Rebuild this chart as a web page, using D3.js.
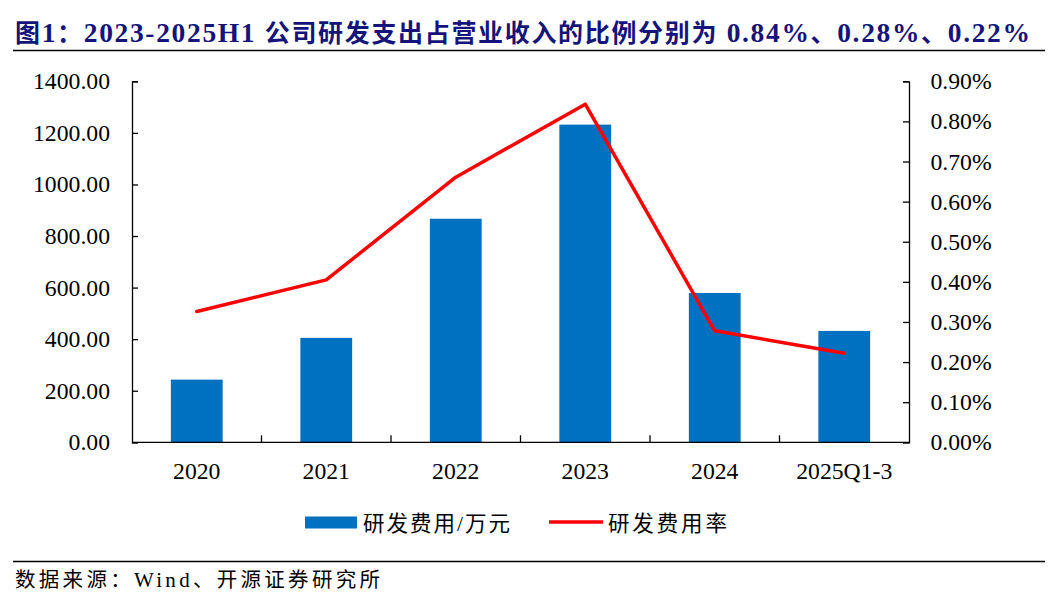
<!DOCTYPE html>
<html>
<head>
<meta charset="utf-8">
<script src="https://cdn.jsdelivr.net/npm/d3@7"></script>
<style>
  body { margin: 0; background: #fff; }
  svg { display: block; }
  text { font-family: "Liberation Serif", "Noto Sans CJK SC", serif; }
</style>
</head>
<body>
<svg id="chart" width="1052" height="606"></svg>
<script>
// data
var categories = ["2020", "2021", "2022", "2023", "2024", "2025Q1-3"];
var rdExpense = [243, 405, 867, 1232, 579, 432];          // 研发费用/万元
var rdRatio = [0.326, 0.405, 0.661, 0.843, 0.278, 0.222]; // 研发费用率 (%)
var leftTicks = [0, 200, 400, 600, 800, 1000, 1200, 1400];
var rightTicks = [0, 0.1, 0.2, 0.3, 0.4, 0.5, 0.6, 0.7, 0.8, 0.9];

var svg = d3.select("#chart");
var m = {left: 132, right: 909, top: 81.3, bottom: 442.3};

var x = d3.scaleBand().domain(categories).range([m.left, m.right]).paddingInner(0.6).paddingOuter(0.3);
var xc = d3.scaleBand().domain(categories).range([m.left, m.right]);
var yL = d3.scaleLinear().domain([0, 1400]).range([m.bottom, m.top]);
var yR = d3.scaleLinear().domain([0, 0.9]).range([m.bottom, m.top]);

// split a string into CJK / latin runs so each can get its own size
function runs(str) {
  var out = [], re = /[\u3000-\u9fff\uff00-\uffef]+|[^\u3000-\u9fff\uff00-\uffef]+/g, r;
  while ((r = re.exec(str))) out.push({t: r[0], cjk: /[\u3000-\u9fff\uff00-\uffef]/.test(r[0])});
  return out;
}
function mixedText(g, str, o) {
  var t = g.append("text").attr("x", o.x).attr("y", o.y);
  if (o.len) t.attr("textLength", o.len).attr("lengthAdjust", "spacing");
  if (o.bold) t.attr("font-weight", "bold");
  if (o.fill) t.attr("fill", o.fill);
  t.selectAll("tspan").data(runs(str)).join("tspan")
    .attr("font-size", function(d) { return d.cjk ? o.cjkSize : o.latinSize; })
    .text(function(d) { return d.t; });
  return t;
}

// title
mixedText(svg, "图1：2023-2025H1 公司研发支出占营业收入的比例分别为 0.84%、0.28%、0.22%",
  {x: 15, y: 42, len: 1015, bold: true, fill: "#14147a", cjkSize: 25, latinSize: 27.5});
svg.append("line")
  .attr("x1", 13).attr("x2", 1045).attr("y1", 50.5).attr("y2", 50.5)
  .attr("stroke", "#000").attr("stroke-width", 1.3);

// bars
svg.append("g").selectAll("rect")
  .data(rdExpense)
  .join("rect")
  .attr("x", function(d, i) { return x(categories[i]); })
  .attr("width", x.bandwidth())
  .attr("y", function(d) { return yL(d); })
  .attr("height", function(d) { return yL(0) - yL(d); })
  .attr("fill", "#0070c0");

// line
var line = d3.line()
  .x(function(d, i) { return xc(categories[i]) + xc.bandwidth() / 2; })
  .y(function(d) { return yR(d); });
svg.append("path")
  .datum(rdRatio)
  .attr("d", line)
  .attr("fill", "none")
  .attr("stroke", "#ff0000")
  .attr("stroke-width", 3.5)
  .attr("stroke-linejoin", "round")
  .attr("stroke-linecap", "round");

// axes
var gL = svg.append("g").attr("transform", "translate(" + m.left + ",0)")
  .call(d3.axisRight(yL).tickValues(leftTicks).tickSize(6).tickFormat(""));
var gR = svg.append("g").attr("transform", "translate(" + m.right + ",0)")
  .call(d3.axisLeft(yR).tickValues(rightTicks).tickSize(6).tickFormat(""));
var gB = svg.append("g").attr("transform", "translate(0," + m.bottom + ")")
  .call(d3.axisTop(xc).tickSize(0).tickFormat(""));
[gL, gR, gB].forEach(function(g) {
  g.selectAll("path, line").attr("stroke", "#000").attr("stroke-width", 1.3);
});
gB.select(".domain").attr("d", "M" + m.left + ",0H" + m.right);

// category boundary ticks on bottom axis
svg.append("g").selectAll("line")
  .data(categories.slice(1))
  .join("line")
  .attr("x1", function(d) { return xc(d); })
  .attr("x2", function(d) { return xc(d); })
  .attr("y1", m.bottom).attr("y2", m.bottom - 7)
  .attr("stroke", "#000").attr("stroke-width", 1.3);

// tick labels
svg.append("g").selectAll("text")
  .data(leftTicks)
  .join("text")
  .attr("x", 110).attr("y", function(d) { return yL(d) + 8; })
  .attr("text-anchor", "end").attr("font-size", 23.7)
  .text(function(d) { return d3.format(".2f")(d); });

svg.append("g").selectAll("text")
  .data(rightTicks)
  .join("text")
  .attr("x", 930.5).attr("y", function(d) { return yR(d) + 8; })
  .attr("font-size", 23.7)
  .text(function(d) { return d3.format(".2f")(d) + "%"; });

svg.append("g").selectAll("text")
  .data(categories)
  .join("text")
  .attr("x", function(d) { return xc(d) + xc.bandwidth() / 2; })
  .attr("y", 479)
  .attr("text-anchor", "middle").attr("font-size", 23.7)
  .text(function(d) { return d; });

// legend
var lg = svg.append("g");
lg.append("rect").attr("x", 305).attr("y", 516.5).attr("width", 52).attr("height", 12).attr("fill", "#0070c0");
lg.append("text").attr("x", 363).attr("y", 531).attr("font-size", 21.5)
  .attr("textLength", 147).attr("lengthAdjust", "spacing").text("研发费用/万元");
lg.append("line").attr("x1", 549).attr("x2", 603).attr("y1", 522).attr("y2", 522)
  .attr("stroke", "#ff0000").attr("stroke-width", 3.5);
lg.append("text").attr("x", 608).attr("y", 531).attr("font-size", 21.5)
  .attr("textLength", 119).attr("lengthAdjust", "spacing").text("研发费用率");

// source
svg.append("line")
  .attr("x1", 13).attr("x2", 1045).attr("y1", 561.5).attr("y2", 561.5)
  .attr("stroke", "#000").attr("stroke-width", 1.3);
mixedText(svg, "数据来源：Wind、开源证券研究所",
  {x: 15, y: 587, len: 365, cjkSize: 20.5, latinSize: 21});
</script>
</body>
</html>
